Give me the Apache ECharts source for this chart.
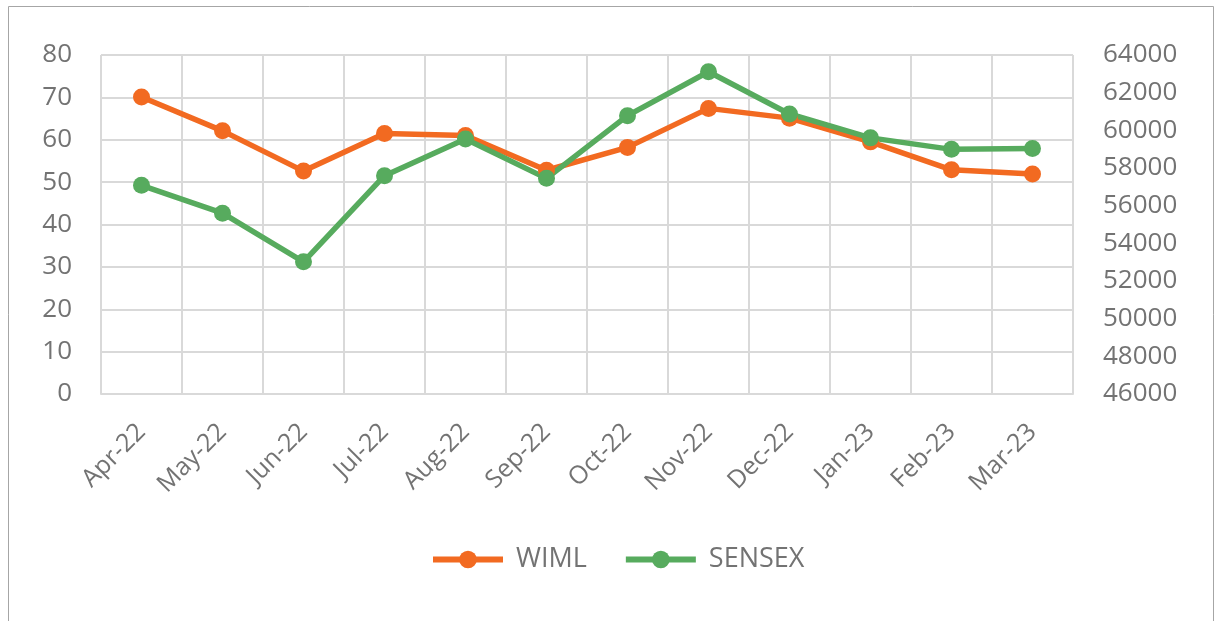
<!DOCTYPE html>
<html>
<head>
<meta charset="utf-8">
<script src="https://cdn.jsdelivr.net/npm/echarts@6/dist/echarts.min.js"></script>
<style>
  html, body { margin: 0; padding: 0; background: #fff; }
  #chart { width: 1216px; height: 621px; }
</style>
</head>
<body>
<div id="chart"></div>
<script>
const months = ['Apr-22', 'May-22', 'Jun-22', 'Jul-22', 'Aug-22', 'Sep-22', 'Oct-22', 'Nov-22', 'Dec-22', 'Jan-23', 'Feb-23', 'Mar-23']
const wiml = [70.1, 62.1, 52.6, 61.5, 61.0, 52.8, 58.2, 67.4, 65.1, 59.5, 52.9, 51.9]
const sensex = [57080, 55600, 53020, 57590, 59540, 57450, 60780, 63110, 60870, 59600, 58990, 59030]

const textColor = '#737373'
const gridColor = '#d9d9d9'
const font = '"Open Sans", "Noto Sans", sans-serif'

const chart = echarts.init(document.getElementById('chart'))

chart.setOption({
  animation: false,
  graphic: [{
    type: 'rect',
    shape: { x: 8.5, y: 6.5, width: 1205, height: 700 },
    style: { fill: 'none', stroke: '#a6a6a6', lineWidth: 1 },
    silent: true
  }],
  legend: {
    data: ['WIML', 'SENSEX'],
    top: 546,
    left: 430,
    padding: 0,
    itemWidth: 70,
    itemHeight: 22,
    itemGap: 36,
    lineStyle: { width: 6 },
    textStyle: { color: textColor, fontSize: 27, fontFamily: font, padding: [0, 0, 0, 8] }
  },
  grid: { left: 101, right: 143, top: 55, bottom: 227 },
  xAxis: {
    type: 'category',
    data: months,
    boundaryGap: true,
    axisLine: { lineStyle: { color: gridColor, width: 2 } },
    axisTick: { show: false },
    splitLine: { show: true, interval: 0, lineStyle: { color: gridColor, width: 2 } },
    axisLabel: { rotate: 45, interval: 0, margin: 34, color: textColor, fontSize: 25, fontFamily: font }
  },
  yAxis: [
    {
      type: 'value',
      min: 0, max: 80, interval: 10,
      axisLine: { show: false },
      axisTick: { show: false },
      splitLine: { lineStyle: { color: gridColor, width: 2 } },
      axisLabel: { margin: 29, color: textColor, fontSize: 26, fontFamily: font }
    },
    {
      type: 'value',
      min: 46000, max: 64000, interval: 2000,
      axisLine: { show: false },
      axisTick: { show: false },
      splitLine: { show: false },
      axisLabel: { margin: 30, color: textColor, fontSize: 26, fontFamily: font, formatter: v => String(v) }
    }
  ],
  series: [
    {
      name: 'WIML',
      type: 'line',
      yAxisIndex: 0,
      data: wiml,
      symbol: 'circle',
      symbolSize: 17,
      lineStyle: { width: 5.5, color: '#f26a21' },
      itemStyle: { color: '#f26a21' }
    },
    {
      name: 'SENSEX',
      type: 'line',
      yAxisIndex: 1,
      data: sensex,
      symbol: 'circle',
      symbolSize: 17,
      lineStyle: { width: 5.5, color: '#57ab5e' },
      itemStyle: { color: '#57ab5e' }
    }
  ]
})
</script>
</body>
</html>
